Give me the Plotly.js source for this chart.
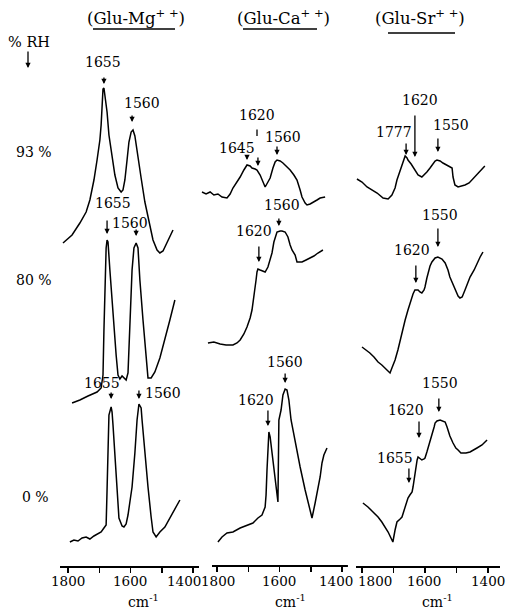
<!DOCTYPE html>
<html>
<head>
<meta charset="utf-8">
<script src="https://cdn.plot.ly/plotly-3.0.1.min.js"></script>
<style>html,body{margin:0;padding:0;background:#fff;}#chart{width:506px;height:610px;}</style>
</head>
<body>
<div id="chart"></div>
<script>
// ---------- DATA (wavenumber cm-1, absorbance in arbitrary stacked units) ----------
const columns = ['(Glu-Mg<sup>+ +</sup>)', '(Glu-Ca<sup>+ +</sup>)', '(Glu-Sr<sup>+ +</sup>)'];
const rhLabels = ['93 %', '80 %', '0 %'];
const tickVals = [1800, 1700, 1600, 1500, 1400];
const tickLabels = ['1800', '1600', '1400'];

// Glu-Mg
const wnMg93 = [1816,1787,1762,1742,1730,1717,1707,1698,1694,1691,1688,1685,1682,1675,1669,1659,1650,1640,1630,1624,1618,1611,1605,1598,1592,1586,1576,1566,1554,1541,1528,1515,1506,1496,1483,1464];
const abMg93 = [323,331,343,354,366,386,406,426,441,461,477,478,471,454,431,411,391,378,374,376,386,406,424,434,436,430,411,388,364,344,326,316,313,315,323,336];
const wnMg80 = [1787,1762,1736,1707,1694,1688,1685,1682,1678,1675,1672,1666,1659,1653,1646,1640,1634,1627,1621,1614,1608,1602,1595,1589,1582,1576,1570,1560,1550,1544,1534,1522,1506,1490,1474,1458];
const abMg80 = [163,166,170,174,178,191,236,286,318,326,324,296,266,236,211,191,187,190,188,186,193,246,296,318,323,318,286,246,206,188,188,194,208,226,246,266];
const wnMg0 = [1794,1781,1768,1755,1742,1730,1717,1704,1694,1685,1678,1675,1672,1669,1662,1659,1656,1650,1643,1637,1627,1621,1614,1608,1602,1595,1586,1579,1573,1566,1563,1554,1544,1534,1528,1518,1506,1490,1474,1458,1442];
const abMg0 = [24,26,25,28,29,27,30,32,34,38,41,76,126,151,159,154,141,113,79,48,40,39,42,51,64,79,113,146,162,158,146,113,79,49,34,29,34,39,48,58,66];

// Glu-Ca
const wnCa93 = [1848,1835,1822,1810,1797,1784,1768,1758,1749,1736,1726,1714,1704,1694,1688,1678,1672,1662,1656,1646,1637,1630,1621,1614,1608,1598,1589,1576,1566,1554,1544,1534,1528,1518,1512,1502,1493,1480,1470,1454];
const abCa93 = [374,372,374,371,372,369,368,372,378,384,389,396,401,400,398,397,396,391,386,379,384,388,398,404,406,405,403,399,396,391,386,376,369,363,361,362,364,366,368,369];
const wnCa80 = [1829,1810,1790,1771,1749,1736,1726,1714,1704,1694,1688,1682,1678,1675,1672,1669,1662,1656,1646,1637,1630,1624,1618,1614,1608,1598,1592,1582,1573,1566,1560,1550,1544,1534,1528,1515,1502,1490,1477,1461];
const abCa80 = [223,224,222,221,221,223,226,232,239,248,256,268,276,286,294,297,296,295,294,299,306,313,324,329,334,335,335,334,329,321,316,311,304,304,304,306,308,310,313,316];
const wnCa0 = [1797,1784,1768,1749,1726,1704,1685,1669,1656,1646,1643,1640,1637,1634,1630,1624,1614,1608,1605,1602,1595,1589,1582,1576,1570,1563,1550,1534,1518,1502,1496,1486,1477,1470,1464,1458,1448];
const abCa0 = [24,29,33,34,38,41,43,48,51,59,71,96,126,134,129,113,86,66,64,146,156,171,177,176,166,146,123,99,76,56,48,63,76,89,103,111,118];

// Glu-Sr
const wnSr93 = [1816,1800,1784,1768,1752,1733,1717,1705,1695,1689,1679,1673,1667,1663,1657,1654,1644,1638,1629,1622,1610,1600,1594,1584,1578,1568,1562,1552,1543,1527,1514,1511,1505,1495,1482,1473,1460,1451,1441,1432,1419,1410];
const abSr93 = [387,384,379,376,373,368,367,371,378,386,395,401,408,410,408,406,402,399,394,391,389,392,394,398,401,405,406,405,403,400,398,389,381,379,380,381,383,386,390,393,397,400];
const wnSr80 = [1800,1787,1775,1762,1749,1737,1727,1717,1711,1705,1695,1686,1679,1670,1663,1654,1648,1638,1632,1622,1616,1610,1603,1600,1594,1590,1584,1578,1568,1559,1552,1546,1536,1527,1521,1511,1505,1495,1489,1482,1473,1463,1457,1444,1435,1425,1416];
const abSr80 = [219,216,213,209,204,201,198,195,193,198,206,216,226,238,246,256,263,272,276,276,274,273,276,279,288,294,300,304,308,309,308,307,303,296,289,281,276,270,268,269,276,283,289,296,303,309,314];
const wnSr0 = [1797,1781,1765,1749,1737,1727,1717,1708,1702,1695,1689,1679,1673,1667,1663,1657,1654,1648,1641,1638,1635,1632,1629,1625,1622,1616,1610,1603,1600,1594,1590,1584,1578,1571,1568,1562,1552,1543,1536,1530,1527,1521,1511,1502,1495,1486,1479,1470,1457,1444,1435,1419,1403];
const abSr0 = [63,59,54,49,44,39,34,28,24,36,44,47,49,55,59,65,68,71,74,79,86,93,99,106,109,107,106,107,108,114,118,124,131,139,143,145,146,145,144,139,136,130,123,118,116,113,113,113,114,116,118,121,126];

// Peak labels: [axis, text, wn, ab]
const peakText = [
  ['x','1655',1688,504],['x','1560',1563,463],['x','1655',1656,363],['x','1560',1602,343],['x','1655',1691,183],['x','1560',1496,173],
  ['x2','1620',1672,451],['x2','1645',1736,418],['x2','1560',1589,429],['x2','1560',1592,361],['x2','1620',1682,335],['x2','1560',1582,204],['x2','1620',1675,166],
  ['x3','1777',1698,434],['x3','1620',1616,466],['x3','1550',1517,441],['x3','1550',1552,351],['x3','1620',1641,316],['x3','1550',1552,183],['x3','1620',1660,156],['x3','1655',1695,108]
];
// Peak arrows: [axis, wn of tip, ab of tip, length px, head]
const peakArrows = [
  ['x',1685,482,8,2],['x',1595,444,8,2],['x',1675,332,15,2],['x',1582,330,8,2],['x',1662,167,8,2],['x',1573,167,10,2],
  ['x2',1704,406,6,2],['x2',1669,400,10,2],['x2',1672,430,8,0],['x2',1608,411,10,2],['x2',1602,340,9,2],['x2',1666,304,17,2],['x2',1582,183,11,2],['x2',1637,140,17,2],
  ['x3',1660,411,13,2],['x3',1632,409,43,2],['x3',1559,414,15,2],['x3',1559,319,20,2],['x3',1629,283,19,2],['x3',1556,154,15,2],['x3',1619,128,18,2],['x3',1651,83,16,2]
];

// ---------- PLOT ----------
const W = 506, H = 610;
const FONT = 'DejaVu Serif, Liberation Serif, serif';
const ln = {color:'#000', width:1.5};
const series = [
  [wnMg93, abMg93, 'x'], [wnMg80, abMg80, 'x'], [wnMg0, abMg0, 'x'],
  [wnCa93, abCa93, 'x2'], [wnCa80, abCa80, 'x2'], [wnCa0, abCa0, 'x2'],
  [wnSr93, abSr93, 'x3'], [wnSr80, abSr80, 'x3'], [wnSr0, abSr0, 'x3']
];
const traces = series.map(s => ({x:s[0], y:s[1], xaxis:s[2], yaxis:'y', type:'scatter', mode:'lines', line:ln, hoverinfo:'skip'}));

const yBottom = 44/H;
function xa(d0, d1, r0, r1, showline){
  return {domain:[d0/W, d1/W], range:[r0, r1], showgrid:false, zeroline:false, showline:showline, linecolor:'#000', linewidth:1.8,
    tickmode:'array', tickvals:tickVals, showticklabels:false, ticks:'outside', ticklen:5, tickwidth:1.5, tickcolor:'#000',
    anchor:'y', fixedrange:true};
}

const ann = [];
function txt(xref, yref, x, y, text, size){
  ann.push({xref:xref, yref:yref, x:x, y:y, text:text, showarrow:false, xanchor:'center', yanchor:'middle',
    font:{family:FONT, size:size || 14, color:'#000'}});
}
function arrow(xref, yref, x, y, len, head){
  ann.push({xref:xref, yref:yref, x:x, y:y, text:'', showarrow:true, ax:0, ay:-len, arrowhead:head,
    arrowsize:0.8, arrowwidth:1.3, arrowcolor:'#000', standoff:0, startstandoff:0});
}
peakText.forEach(p => txt(p[0], 'y', p[2], p[3], p[1]));
peakArrows.forEach(a => arrow(a[0], 'y', a[1], a[2], a[3], a[4]));
// column headers
const headX = [136, 283, 420];
columns.forEach((c,i) => txt('paper', 'paper', headX[i]/W, 1-17/H, c, 16.5));
// row labels
txt('paper', 'paper', 29/W, 1-42/H, '% RH', 14.5);
arrow('paper', 'paper', 28/W, 1-68/H, 18, 2);
const rowY = [152, 280, 497], rowX = [34, 34, 35];
rhLabels.forEach((r,i) => txt('paper', 'paper', rowX[i]/W, 1-rowY[i]/H, r));
// tick labels (positions as printed in the original figure)
const tickLabelPx = [[68,130,184],[218,279,336],[375,424,488]];
tickLabelPx.forEach(row => row.forEach((px,j) => txt('paper', 'paper', px/W, 1-581/H, tickLabels[j], 13.5)));
// axis units
[143, 290, 437].forEach(px => txt('paper', 'paper', px/W, 1-601/H, 'cm<sup>-1</sup>', 14));

const shapes = [
  {type:'line', xref:'x2', yref:'paper', x0:1816, x1:1381, y0:yBottom, y1:yBottom, line:{color:'#000', width:1.8}},
  {type:'line', xref:'paper', yref:'paper', x0:93/W, x1:175/W, y0:1-29/H, y1:1-29/H, line:{color:'#000', width:1.4}},
  {type:'line', xref:'paper', yref:'paper', x0:243/W, x1:317/W, y0:1-29/H, y1:1-29/H, line:{color:'#000', width:1.4}},
  {type:'line', xref:'paper', yref:'paper', x0:388/W, x1:455/W, y0:1-33/H, y1:1-33/H, line:{color:'#000', width:1.4}}
];

const layout = {
  width:W, height:H, margin:{l:0, r:0, t:0, b:0}, paper_bgcolor:'#fff', plot_bgcolor:'rgba(0,0,0,0)', showlegend:false,
  xaxis: xa(60, 199, 1825.6, 1380.8, true),
  xaxis2: xa(200, 350, 1854.4, 1374.4, false),
  xaxis3: xa(356, 500, 1819.0, 1361.9, true),
  yaxis: {domain:[yBottom, 1], range:[0, 566], visible:false, fixedrange:true, anchor:'x'},
  annotations: ann, shapes: shapes
};
Plotly.newPlot('chart', traces, layout, {staticPlot:true, displayModeBar:false});
</script>
</body>
</html>
